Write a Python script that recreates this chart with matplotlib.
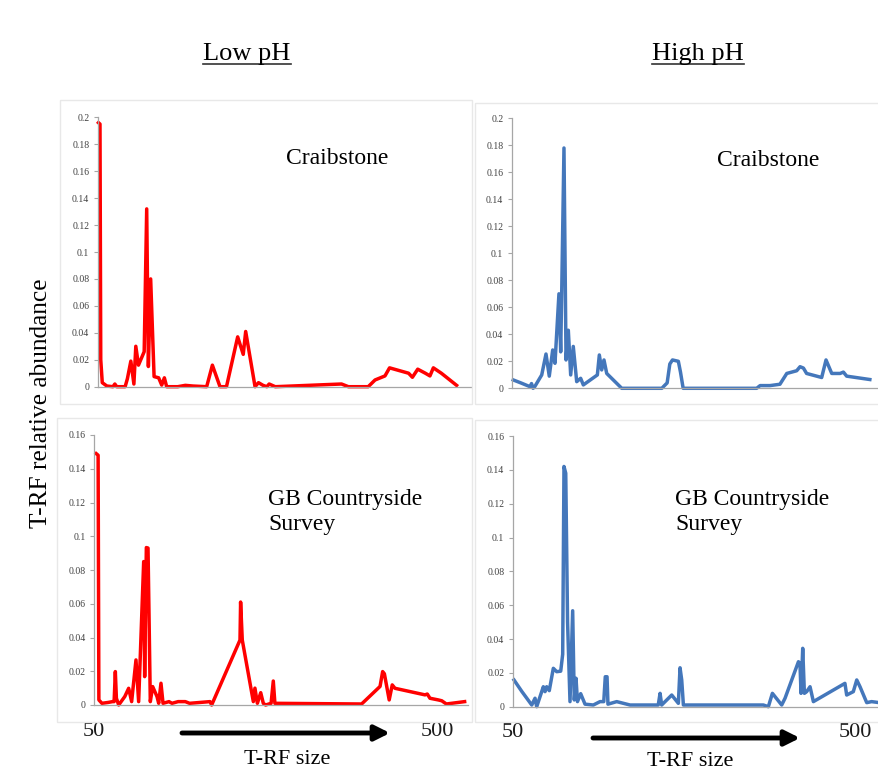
import matplotlib.pyplot as plt
from matplotlib.patches import Rectangle
from matplotlib.lines import Line2D
from matplotlib.ticker import FuncFormatter

# ---------- data (T-RF size vs relative abundance) ----------
tl_x = [51, 53, 54, 56, 62, 70, 72.5, 75, 86, 89, 93.5, 97.5, 100, 103.5, 111, 114.3, 116.5, 119.5,
        124, 130, 134, 137.5, 140.5, 155, 165, 175, 193, 200.5, 210.5, 219, 233.7, 241, 244.2, 256.5,
        261, 267, 272, 275, 283, 370, 379, 405, 414, 427, 433, 458, 463, 470, 480, 486, 490.5, 501, 521]
tl_y = [0.196, 0.195, 0.02, 0.003, 0.0005, 0.0, 0.002, 0.0, 0.0, 0.006, 0.019, 0.002, 0.030, 0.016,
        0.026, 0.132, 0.015, 0.080, 0.0075, 0.0066, 0.0012, 0.0066, 0.0, 0.0, 0.001, 0.0005, 0.0, 0.016,
        0.0, 0.0, 0.037, 0.024, 0.041, 0.0, 0.003, 0.001, 0.0, 0.002, 0.0, 0.002, 0.0, 0.0, 0.005, 0.008,
        0.014, 0.010, 0.007, 0.013, 0.010, 0.008, 0.014, 0.010, 0.001]

tr_x = [52, 62, 74, 76, 78, 80, 89.4, 95, 99.3, 103.8, 106.8, 112, 114.3, 115.6, 118.6, 121.3, 124.3,
        127.4, 130.8, 135.3, 140.5, 144, 162.4, 165, 168.1, 171.1, 174.7, 194.4, 247, 254, 257.5, 261,
        268.7, 271.5, 275, 371.5, 376, 389, 402, 411, 424, 428.4, 432.8, 437, 456.8, 462.5, 470, 481,
        485.3, 489.6, 520]
tr_y = [0.0062, 0.004, 0.0012, 0.0035, 0.0, 0.001, 0.0099, 0.0254, 0.009, 0.0284, 0.0185, 0.070,
        0.027, 0.070, 0.178, 0.021, 0.043, 0.0099, 0.031, 0.0049, 0.0074, 0.0025, 0.0099, 0.0247,
        0.0136, 0.021, 0.011, 0.0, 0.0, 0.004, 0.018, 0.021, 0.020, 0.012, 0.0, 0.0, 0.002, 0.002,
        0.003, 0.011, 0.013, 0.016, 0.015, 0.011, 0.008, 0.021, 0.011, 0.011, 0.012, 0.009, 0.0065]

bl_x = [52.4, 55, 56, 60, 68, 74, 76, 77.6, 79, 82, 90, 95.1, 99, 104.7, 108.2, 114.8, 116.1, 118.3,
        120.5, 123.5, 126.6, 132.3, 134.5, 137.5, 140.2, 148, 152, 160, 169.4, 175, 201.8, 204, 241.2,
        242, 244.2, 258.7, 260.8, 264, 268.4, 271.8, 274.8, 282, 284.9, 287, 400.8, 425, 428.4, 430.7,
        437, 441, 444.6, 484, 487, 490.5, 501.5, 506, 512, 536]
bl_y = [0.149, 0.148, 0.003, 0.001, 0.0015, 0.002, 0.002, 0.0198, 0.004, 0.0, 0.005, 0.0099, 0.002,
        0.0267, 0.002, 0.085, 0.0168, 0.0933, 0.093, 0.002, 0.0109, 0.005, 0.001, 0.0129, 0.001, 0.002,
        0.001, 0.002, 0.002, 0.001, 0.002, 0.0, 0.0385, 0.061, 0.0385, 0.002, 0.010, 0.001, 0.0073,
        0.001, 0.0, 0.001, 0.0142, 0.001, 0.0006, 0.011, 0.0198, 0.0185, 0.003, 0.0119, 0.0099, 0.006,
        0.0065, 0.004, 0.003, 0.0025, 0.0006, 0.002]

br_x = [51.7, 62, 75, 79.3, 81.5, 90.2, 92.4, 94.6, 98, 103.3, 107.7, 113, 115.6, 117.3, 119.6, 122,
        125.2, 128.7, 130.8, 133.1, 135, 139.2, 144.9, 155.8, 164.6, 169.5, 171.5, 173.8, 175, 186.5,
        204, 241, 243.4, 245.5, 258.7, 267.4, 269.6, 271.8, 274, 379, 385.5, 390.8, 403, 407.4, 425,
        427, 428.4, 430.6, 432.8, 435.8, 440.2, 444.6, 486, 488.3, 497, 501.5, 505.8, 514.6, 521, 531]
br_y = [0.0158, 0.009, 0.001, 0.005, 0.0, 0.0118, 0.0089, 0.0118, 0.0095, 0.0227, 0.0207, 0.021,
        0.031, 0.142, 0.138, 0.05, 0.003, 0.0567, 0.004, 0.0168, 0.003, 0.0077, 0.0015, 0.001, 0.003,
        0.003, 0.0177, 0.0177, 0.0015, 0.003, 0.001, 0.001, 0.0079, 0.001, 0.0069, 0.002, 0.023,
        0.0158, 0.001, 0.001, 0.0, 0.0079, 0.001, 0.005, 0.0266, 0.0256, 0.0079, 0.0345, 0.0079,
        0.0089, 0.0118, 0.003, 0.0138, 0.0069, 0.0089, 0.0158, 0.0118, 0.0024, 0.003, 0.0024]

col_titles = ["Low pH", "High pH"]
site_labels = ["Craibstone", "GB Countryside\nSurvey"]
x_ticks = [50, 500]

RED = "#ff0000"
BLUE = "#4477bb"
SERIF = ["Liberation Serif", "DejaVu Serif"]

W, H = 879, 771
fig = plt.figure(figsize=(W / 100, H / 100), dpi=100)


def px(x0, y0, x1, y1):
    # pixel box (top-left origin) -> figure fraction [l, b, w, h]
    return [x0 / W, 1 - y1 / H, (x1 - x0) / W, (y1 - y0) / H]


# faint chart-area frames (pasted Excel charts)
for box in [(60, 100, 472, 404), (475, 103, 890, 404), (57, 418, 472, 722), (475, 420, 890, 722)]:
    l, b, w, h = px(*box)
    fig.add_artist(Rectangle((l, b), w, h, transform=fig.transFigure,
                             fill=False, ec="#e8e8e8", lw=1.0))


def style(ax, ymax, step):
    for s in ("top", "right"):
        ax.spines[s].set_visible(False)
    for s in ("left", "bottom"):
        ax.spines[s].set_color("#a6a6a6")
        ax.spines[s].set_linewidth(0.9)
    ax.set_xlim(50, 540)
    ax.set_ylim(0, ymax)
    n = int(round(ymax / step))
    ax.set_yticks([i * step for i in range(n + 1)])
    ax.yaxis.set_major_formatter(FuncFormatter(lambda v, p: "%g" % round(v, 3)))
    ax.tick_params(axis="y", direction="out", length=3, width=0.8, color="#a6a6a6",
                   labelsize=7, labelcolor="#404040", pad=3)
    for t in ax.get_yticklabels():
        t.set_family(SERIF)
    ax.patch.set_alpha(0)


axes_px = {
    "tl": (97.7, 117.3, 97.7 + 490 * 0.762, 386.7),
    "tr": (511.7, 118.3, 511.7 + 490 * 0.762, 388.3),
    "bl": (94.3, 435.0, 94.3 + 490 * 0.762, 705.0),
    "br": (512.7, 436.0, 512.7 + 490 * 0.762, 706.7),
}
panels = [
    ("tl", tl_x, tl_y, RED, 0.2, 0.02),
    ("tr", tr_x, tr_y, BLUE, 0.2, 0.02),
    ("bl", bl_x, bl_y, RED, 0.16, 0.02),
    ("br", br_x, br_y, BLUE, 0.16, 0.02),
]

for key, x, y, c, ymax, step in panels:
    ax = fig.add_axes(px(*axes_px[key]))
    ax.plot(x, y, color=c, lw=2.5, solid_joinstyle="round", clip_on=False)
    style(ax, ymax, step)
    if key.startswith("t"):
        ax.set_xticks([])
    else:
        ax.set_xticks(x_ticks)
        ax.set_xticklabels([str(v) for v in x_ticks], family=SERIF, fontsize=16, color="#1a1a1a")
        ax.tick_params(axis="x", length=0, pad=12)

# site labels inside panels
fig.text(337 / W, 1 - 158 / H, site_labels[0], family=SERIF, fontsize=17, ha="center", va="center")
fig.text(768 / W, 1 - 160 / H, site_labels[0], family=SERIF, fontsize=17, ha="center", va="center")
fig.text(268 / W, 1 - 512 / H, site_labels[1], family=SERIF, fontsize=17, ha="left", va="center",
         linespacing=1.3)
fig.text(675 / W, 1 - 512 / H, site_labels[1], family=SERIF, fontsize=17, ha="left", va="center",
         linespacing=1.3)

# column titles, underlined
fig.canvas.draw()
r = fig.canvas.get_renderer()
for cx, lab in zip([247, 698], col_titles):
    t = fig.text(cx / W, 1 - 54 / H, lab, family=SERIF, fontsize=19, ha="center", va="center")
    bb = t.get_window_extent(renderer=r)
    yl = 1 - 64 / H
    fig.add_artist(Line2D([bb.x0 / W, bb.x1 / W], [yl, yl], transform=fig.transFigure,
                          color="#333333", lw=1.2))

# y label
fig.text(41 / W, 1 - 403 / H, "T-RF relative abundance", family=SERIF, fontsize=18.3,
         rotation=90, ha="center", va="center")

# x labels and arrows
for x0, x1, ya, xt, yt in [(182, 390, 733, 287, 760), (593, 800, 738, 690, 762)]:
    plt.annotate("", xy=(x1 / W, 1 - ya / H), xytext=(x0 / W, 1 - ya / H),
                 xycoords="figure fraction", textcoords="figure fraction",
                 arrowprops=dict(arrowstyle="-|>,head_length=0.9,head_width=0.45",
                                 color="black", lw=3.5, shrinkA=0, shrinkB=0))
    fig.text(xt / W, 1 - yt / H, "T-RF size", family=SERIF, fontsize=16, ha="center", va="center")

fig.savefig("out.png", dpi=100)
